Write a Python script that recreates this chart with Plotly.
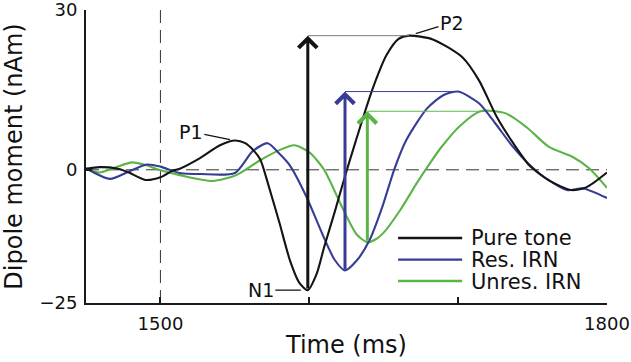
import numpy as np
import plotly.graph_objects as go

# ---------------- data ----------------
pure_t = [1450, 1459, 1470, 1478, 1490, 1500, 1508, 1513, 1526, 1540, 1550, 1557,
          1562, 1567, 1573, 1580, 1587, 1593.5, 1599, 1605, 1610, 1617, 1624, 1631,
          1642, 1652, 1660, 1667, 1683, 1703, 1714, 1726, 1737, 1748, 1761, 1776,
          1786, 1800]
pure_v = [0.2, 0.5, 0.3, -0.4, -1.9, -1.4, -0.2, 0.2, 2.1, 4.6, 5.5, 5.0,
          3.8, 2.0, -3.3, -10.0, -17.0, -21.3, -22.6, -19.5, -14.5, -8.0, -1.2, 5.2,
          14.8, 21.6, 24.6, 25.2, 24.5, 21.1, 16.8, 9.9, 5.0, 0.8, -2.0, -3.8,
          -3.3, -0.5]

res_t = [1450, 1466, 1479, 1491, 1500, 1513, 1527, 1550, 1562, 1572, 1580, 1587,
         1598, 1609, 1617, 1624, 1632, 1640.5, 1649, 1657, 1665, 1679, 1690, 1700,
         1714, 1725, 1736, 1747, 1758, 1773, 1784, 1800]
res_v = [0.3, -1.7, -0.3, 1.0, 0.6, -0.6, -0.8, -0.6, 3.5, 5.0, 3.0, 0.8,
         -5.0, -12.2, -16.9, -18.9, -17.0, -13.2, -7.0, 0.0, 5.5, 11.5, 14.0, 14.7,
         12.5, 8.7, 4.6, 1.2, -1.4, -3.8, -3.5, -5.3]

unres_t = [1450, 1459, 1470, 1481, 1490, 1499, 1513, 1535, 1551, 1567, 1580, 1590,
           1600, 1610, 1620, 1626, 1632, 1639, 1645, 1650, 1661, 1672, 1681, 1688,
           1701, 1715, 1732, 1746, 1761, 1777, 1788, 1800]
unres_v = [0.2, -0.5, 0.5, 1.4, 0.9, 0.0, -1.0, -2.1, -1.0, 1.8, 3.7, 4.6,
           3.3, 0.0, -5.8, -9.3, -12.2, -13.6, -13.0, -11.8, -7.6, -2.6, 1.2, 4.0,
           8.2, 11.0, 10.6, 8.0, 4.3, 2.4, 0.3, -3.4]

series_names = ["Pure tone", "Res. IRN", "Unres. IRN"]
x_tickvals = [1500, 1600, 1700, 1800]
x_ticktext = ["1500", "", "", "1800"]
y_tickvals = [-25, 0, 30]
y_ticktext = ["\u221225", "0", "30"]
x_range = [1450, 1800]
y_range = [-25.02, 30.02]
stim_onset = 1500
peak_labels = ["P1", "N1", "P2"]

# ---------------- styling ----------------
FONT = "DejaVu Sans"
colors = ["#141414", "#363d94", "#5cb348"]
level_colors = ["#7a7a7a", "#3a4198", "#62b84e"]
series = [(pure_t, pure_v), (res_t, res_v), (unres_t, unres_v)]

fig = go.Figure()

# curves (green bottom, black top)
for idx in [2, 1, 0]:
    t, v = series[idx]
    fig.add_trace(go.Scatter(x=t, y=v, mode="lines", name=series_names[idx],
                             line=dict(color=colors[idx], width=2.1, shape="spline",
                                       smoothing=0.7),
                             showlegend=False, hoverinfo="skip"))

annotations = []
shapes = []

# reference dashed lines
shapes.append(dict(type="line", xref="x", yref="paper", x0=stim_onset, x1=stim_onset,
                   y0=0, y1=1, line=dict(color="#333333", width=1, dash="13px,7px"),
                   layer="below"))
shapes.append(dict(type="line", xref="paper", yref="y", x0=0, x1=1, y0=0, y1=0,
                   line=dict(color="#333333", width=1, dash="13px,7px"), layer="below"))

# peak-to-peak arrows and level lines
for idx, (t, v) in enumerate(series):
    t = np.asarray(t, float); v = np.asarray(v, float)
    imin = int(np.argmin(v)); imax = int(np.argmax(v))
    fig.add_trace(go.Scatter(x=[t[imin], t[imax]], y=[v[imax], v[imax]], mode="lines",
                             line=dict(color=level_colors[idx], width=1),
                             showlegend=False, hoverinfo="skip"))
    annotations.append(dict(x=t[imin], y=v[imax], ax=t[imin], ay=v[imin],
                            xref="x", yref="y", axref="x", ayref="y", text="",
                            showarrow=True, arrowhead=4, arrowsize=1.2, arrowwidth=3,
                            arrowcolor=colors[idx], standoff=0, startstandoff=0))

# component labels (P1, N1, P2) on the pure-tone curve
pt = np.asarray(pure_t, float); pv = np.asarray(pure_v, float)
early = pt < 1580
i_p1 = int(np.argmax(np.where(early, pv, -1e9)))
i_n1 = int(np.argmin(pv))
i_p2 = int(np.argmax(pv))
label_pts = [(i_p1, -44, -9, 5), (i_n1, -47, 0, 7), (i_p2, 43, -13, 7)]
for (i, axo, ayo, so), lab in zip(label_pts, peak_labels):
    annotations.append(dict(x=pt[i], y=pv[i], xref="x", yref="y", text=lab,
                            showarrow=True, arrowhead=0, arrowwidth=1.3,
                            arrowcolor="#111111", ax=axo, ay=ayo, standoff=so,
                            font=dict(family=FONT, size=19, color="#111111")))

# legend (drawn manually to match long sample lines)
leg_y = [0.222, 0.148, 0.075]
for idx in range(3):
    shapes.append(dict(type="line", xref="paper", yref="paper", x0=0.599, x1=0.722,
                       y0=leg_y[idx], y1=leg_y[idx],
                       line=dict(color=colors[idx], width=2.4)))
    annotations.append(dict(x=0.737, y=leg_y[idx], xref="paper", yref="paper",
                            text=series_names[idx], showarrow=False, xanchor="left",
                            yanchor="middle", height=21, borderpad=0,
                            font=dict(family=FONT, size=21, color="#111111")))

fig.update_layout(
    width=631, height=362,
    margin=dict(l=86, r=24, t=10, b=59),
    paper_bgcolor="white", plot_bgcolor="white",
    font=dict(family=FONT, color="#111111"),
    shapes=shapes, annotations=annotations,
    showlegend=False,
    xaxis=dict(range=x_range, showgrid=False, zeroline=False, showline=True,
               automargin=False,
               linecolor="#1a1a1a", linewidth=2, ticks="inside", ticklen=6,
               tickwidth=1.5, tickcolor="#1a1a1a", tickvals=x_tickvals,
               ticktext=x_ticktext, tickfont=dict(family=FONT, size=18),
               ticklabelstandoff=3, ticklabeloverflow="allow",
               title=dict(text="Time (ms)", font=dict(family=FONT, size=24), standoff=4)),
    yaxis=dict(range=y_range, showgrid=False, zeroline=False, showline=True,
               automargin=False,
               linecolor="#1a1a1a", linewidth=2, ticks="inside", ticklen=6,
               tickwidth=1.5, tickcolor="#1a1a1a", tickvals=y_tickvals,
               ticktext=y_ticktext, tickfont=dict(family=FONT, size=18),
               ticklabelstandoff=3, ticklabeloverflow="allow",
               title=dict(text="Dipole moment (nAm)", font=dict(family=FONT, size=24),
                          standoff=10)),
)

# remove the browser's default 8px body margin so the figure fills the window
fig.write_html("out.html", config={"displayModeBar": False},
               post_script="document.body.style.margin='0px';")
